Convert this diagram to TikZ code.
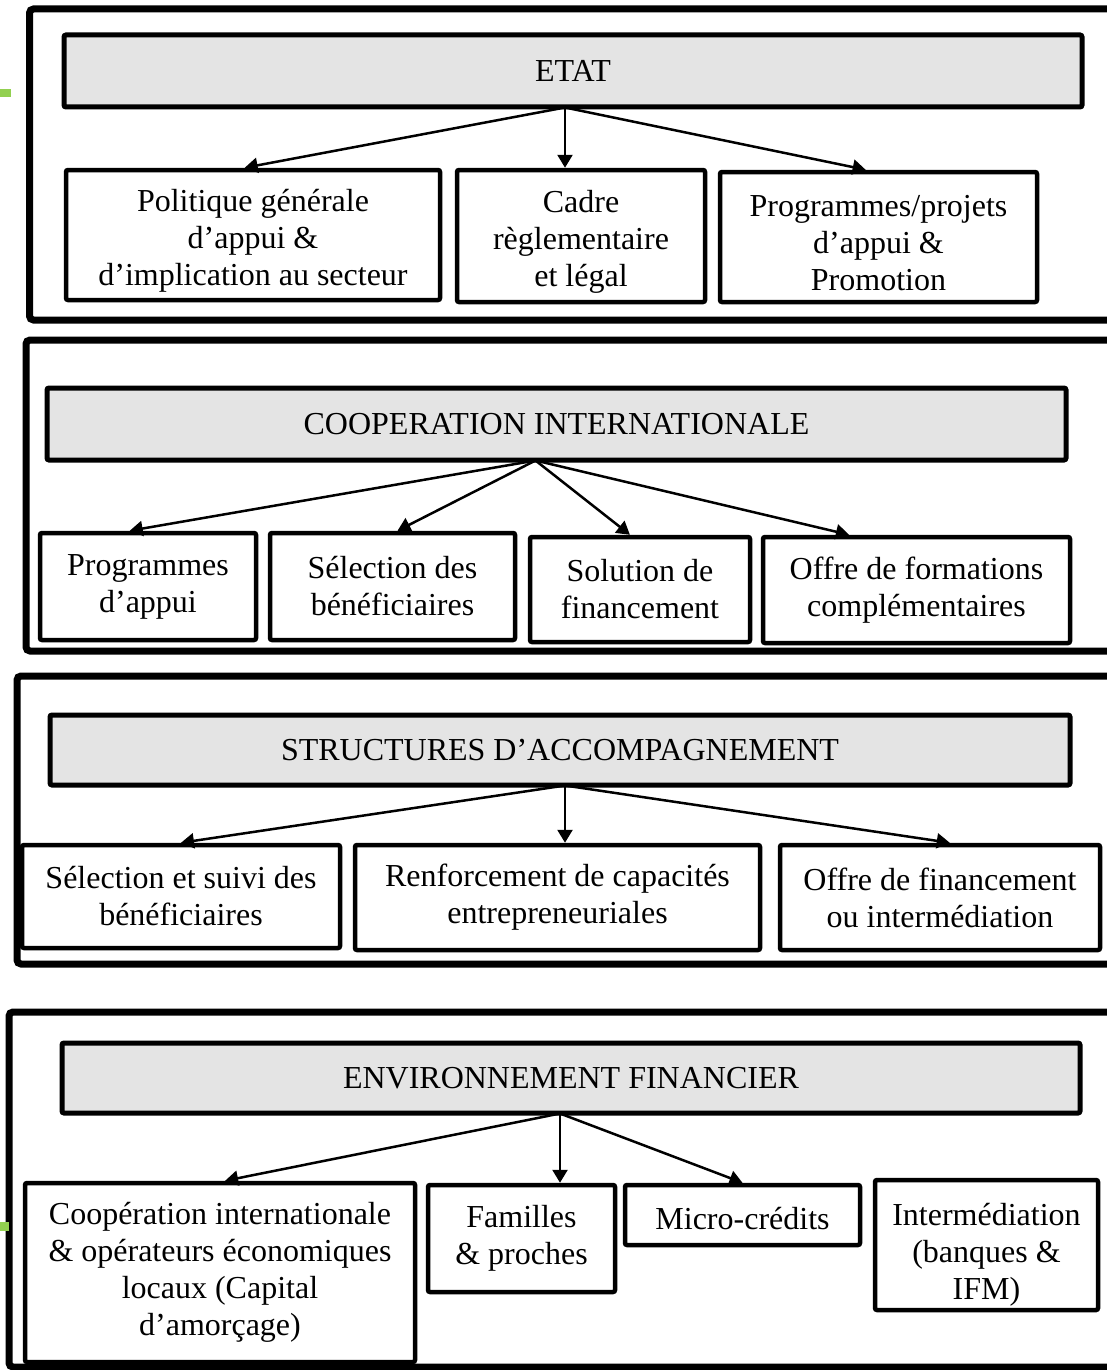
\documentclass[tikz,border=0pt]{standalone}
\usepackage{fontspec}
\setmainfont{Liberation Serif}
\usetikzlibrary{arrows.meta,calc}
\definecolor{hdrgray}{HTML}{E4E4E4}
\definecolor{mkgreen}{HTML}{92D050}
\begin{document}
\begin{tikzpicture}[x=1pt,y=-1pt,
  frame/.style={draw, line width=7pt, rounded corners=4pt},
  hdr/.style={draw, fill=hdrgray, line width=5pt, rounded corners=2pt, inner sep=0pt, font=\fontsize{32}{37}\selectfont},
  cbox/.style={draw, line width=4.5pt, rounded corners=2pt, inner sep=0pt, align=center, font=\fontsize{32}{37}\selectfont},
  lowtext/.style={text height=#1, text depth=0pt},
  arr/.style={line width=2.5pt, -{Triangle[length=13pt,width=15pt]}}]
\useasboundingbox (0,0) rectangle (1107,1370);
% outer frames
\draw[frame] (29.5,9) rectangle (1140,320);
\draw[frame] (26,340) rectangle (1140,651);
\draw[frame] (17,676) rectangle (1140,964);
\draw[frame] (9,1012) rectangle (1140,1367);
% green marks
\fill[mkgreen] (0,89) rectangle (11,97);
\fill[mkgreen] (0,1222) rectangle (9,1231);
% ETAT
\node[hdr, minimum width=1018pt, minimum height=72pt] (etat) at (573,71) {ETAT};
\node[cbox, lowtext=100pt, minimum width=374pt, minimum height=130pt] (p1) at (253,235) {Politique générale\\d’appui \&\\d’implication au secteur};
\node[cbox, lowtext=101pt, minimum width=248pt, minimum height=132pt] (p2) at (581,236) {Cadre\\règlementaire\\et légal};
\node[cbox, lowtext=106pt, minimum width=317pt, minimum height=130pt] (p3) at (878.5,237) {Programmes/projets\\d’appui \&\\Promotion};
\coordinate (e0) at ($(etat.south)+(-8,-2)$);
\draw[arr] (e0) -- ($(p1.north west)!0.478!(p1.north east)$);
\draw[arr] (e0) -- (e0 |- p2.north);
\draw[arr] (e0) -- ($(p3.north west)!0.46!(p3.north east)$);
% COOPERATION
\node[hdr, minimum width=1019pt, minimum height=72pt] (coop) at (556.5,424) {COOPERATION INTERNATIONALE};
\node[cbox, minimum width=216pt, minimum height=107pt] (c1) at (148,586.5) {Programmes\\d’appui};
\node[cbox, minimum width=245pt, minimum height=107pt] (c2) at (392.5,586.5) {Sélection des\\bénéficiaires};
\node[cbox, minimum width=220pt, minimum height=105pt] (c3) at (640,589.5) {Solution de\\financement};
\node[cbox, minimum width=307pt, minimum height=106pt] (c4) at (916.5,590) {Offre de formations\\complémentaires};
\coordinate (k0) at ($(coop.south)+(-21,-2)$);
\draw[arr] (k0) -- ($(c1.north west)!0.417!(c1.north east)$);
\draw[arr] (k0) -- ($(c2.north west)!0.52!(c2.north east)$);
\draw[arr] (k0) -- ($(c3.north west)!0.455!(c3.north east)$);
\draw[arr] (k0) -- ($(c4.north west)!0.283!(c4.north east)$);
% STRUCTURES
\node[hdr, minimum width=1020pt, minimum height=70pt] (stru) at (560,750) {STRUCTURES D’ACCOMPAGNEMENT};
\node[cbox, minimum width=318pt, minimum height=103pt] (s1) at (181,896.5) {Sélection et suivi des\\bénéficiaires};
\node[cbox, minimum width=405pt, minimum height=105pt] (s2) at (557.5,897.5) {Renforcement de capacités\\entrepreneuriales};
\node[cbox, minimum width=320pt, minimum height=105pt] (s3) at (940,897.5) {Offre de financement\\ou intermédiation};
\coordinate (t0) at ($(stru.south)+(5,-2)$);
\draw[arr] (t0) -- ($(s1.north west)!0.5!(s1.north east)$);
\draw[arr] (t0) -- (t0 |- s2.north);
\draw[arr] (t0) -- ($(s3.north west)!0.53!(s3.north east)$);
% ENVIRONNEMENT
\node[hdr, minimum width=1018pt, minimum height=70pt] (envi) at (571,1078) {ENVIRONNEMENT FINANCIER};
\node[cbox, minimum width=390pt, minimum height=179pt] (f1) at (220,1272.5) {Coopération internationale\\\& opérateurs économiques\\locaux (Capital\\d’amorçage)};
\node[cbox, minimum width=187pt, minimum height=107pt] (f2) at (521.5,1238.5) {Familles\\\& proches};
\node[cbox, lowtext=28pt, minimum width=235pt, minimum height=60pt] (f3) at (742.5,1215) {Micro-crédits};
\node[cbox, lowtext=108pt, minimum width=223pt, minimum height=130pt] (f4) at (986.5,1245) {Intermédiation\\(banques \&\\IFM)};
\coordinate (v0) at ($(envi.south)+(-11,-2)$);
\draw[arr] (v0) -- ($(f1.north west)!0.513!(f1.north east)$);
\draw[arr] (v0) -- (v0 |- f2.north);
\draw[arr] (v0) -- ($(f3.north west)!0.5!(f3.north east)$);
\end{tikzpicture}
\end{document}
